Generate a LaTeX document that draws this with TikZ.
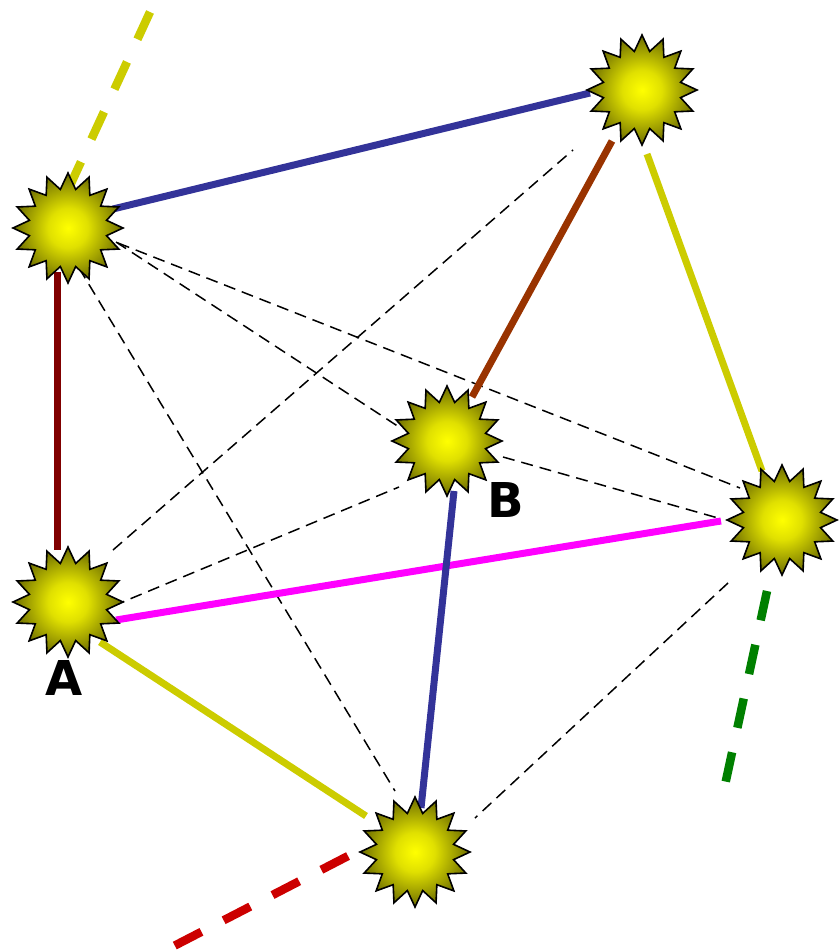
\documentclass[tikz,border=0pt]{standalone}
\usepackage{fontspec}
\setsansfont{DejaVu Sans}
\usepackage{tikz}
\usetikzlibrary{shapes.geometric,backgrounds}
\definecolor{edgeblue}{HTML}{333399}
\definecolor{edgemaroon}{HTML}{800000}
\definecolor{edgebrown}{HTML}{993300}
\definecolor{edgeyellow}{HTML}{CCCC00}
\definecolor{edgegreen}{HTML}{008000}
\definecolor{edgered}{HTML}{CC0000}
\definecolor{edgemagenta}{RGB}{255,0,255}
\definecolor{suncore}{RGB}{255,255,0}
\definecolor{sunmid}{RGB}{224,224,0}
\definecolor{sunouter}{RGB}{160,160,0}
\definecolor{sunrim}{RGB}{108,108,0}
\pgfdeclareradialshading{sunshade}{\pgfpoint{0bp}{0bp}}{color(0bp)=(suncore); color(9bp)=(sunmid); color(18bp)=(sunouter); color(25bp)=(sunrim); color(50bp)=(sunrim)}
\tikzset{
  sun/.style={star, star points=16, star point ratio=1.4, minimum size=110pt, inner sep=0pt, draw=black, line width=1.6pt, shading=sunshade},
  solidedge/.style={line width=7pt},
  thinedge/.style={line width=1.5pt, dash pattern=on 12pt off 7pt},
  tailedge/.style={line width=8.5pt, dash pattern=on 30pt off 25pt},
  lbl/.style={font=\sffamily\bfseries\fontsize{48}{48}\selectfont, inner sep=0pt}
}

\begin{document}
\begin{tikzpicture}[x=1pt,y=-1pt]
        \useasboundingbox (0,0) rectangle (838,952);
        \node[sun] (topl) at (68,228) {};
        \node[sun] (topr) at (642,90) {};
        \node[sun] (ptb) at (447,441) {};
        \node[sun] (right) at (782,520) {};
        \node[sun] (pta) at (68,602) {};
        \node[sun] (bottom) at (415,852) {};
        \node[lbl] (labA) at (64,678) {A};
        \node[lbl] (labB) at (506,500) {B};
        \coordinate (endyellow) at (150,12);
        \coordinate (endgreen) at (725,785);
        \coordinate (endred) at (172,947);
        \begin{pgfonlayer}{background}
        % thin dashed
        \draw[thinedge] ([shift={(48,14)}]topl.center) -- ([shift={(-48,-14)}]ptb.center);
        \draw[thinedge] ([shift={(50,15)}]topl.center) -- ([shift={(-42,-32)}]right.center);
        \draw[thinedge] ([shift={(11,40)}]topl.center) -- ([shift={(-20,-61)}]bottom.center);
        \draw[thinedge] ([shift={(45,-52)}]pta.center) -- ([shift={(-69,60)}]topr.center);
        \draw[thinedge] ([shift={(45,4)}]pta.center) -- ([shift={(-48,46)}]ptb.center);
        \draw[thinedge] ([shift={(56,16)}]ptb.center) -- ([shift={(-64,-2)}]right.center);
        \draw[thinedge] ([shift={(-54,63)}]right.center) -- ([shift={(60,-34)}]bottom.center);
        % solid
        \draw[solidedge, edgeblue] ([shift={(45,-19)}]topl.center) -- ([shift={(-52,3)}]topr.center);
        \draw[solidedge, edgemaroon] ([shift={(-11,44)}]topl.center) -- ([shift={(-11,-52)}]pta.center);
        \draw[solidedge, edgebrown] ([shift={(-30,51)}]topr.center) -- ([shift={(25,-44)}]ptb.center);
        \draw[solidedge, edgeyellow] ([shift={(5,64)}]topr.center) -- ([shift={(-20,-49)}]right.center);
        \draw[solidedge, edgemagenta] ([shift={(48,18)}]pta.center) -- ([shift={(-61,1)}]right.center);
        \draw[solidedge, edgeblue] ([shift={(7,50)}]ptb.center) -- ([shift={(6,-44)}]bottom.center);
        \draw[solidedge, edgeyellow] ([shift={(32,40)}]pta.center) -- ([shift={(-49,-36)}]bottom.center);
        % loose ends
        \draw[tailedge, edgeyellow] (endyellow) -- ([shift={(0,-38)}]topl.center);
        \draw[tailedge, edgegreen] ([shift={(-15,71)}]right.center) -- (endgreen);
        \draw[tailedge, edgered] ([shift={(-67,4)}]bottom.center) -- (endred);
        \end{pgfonlayer}
      \end{tikzpicture}
\end{document}
